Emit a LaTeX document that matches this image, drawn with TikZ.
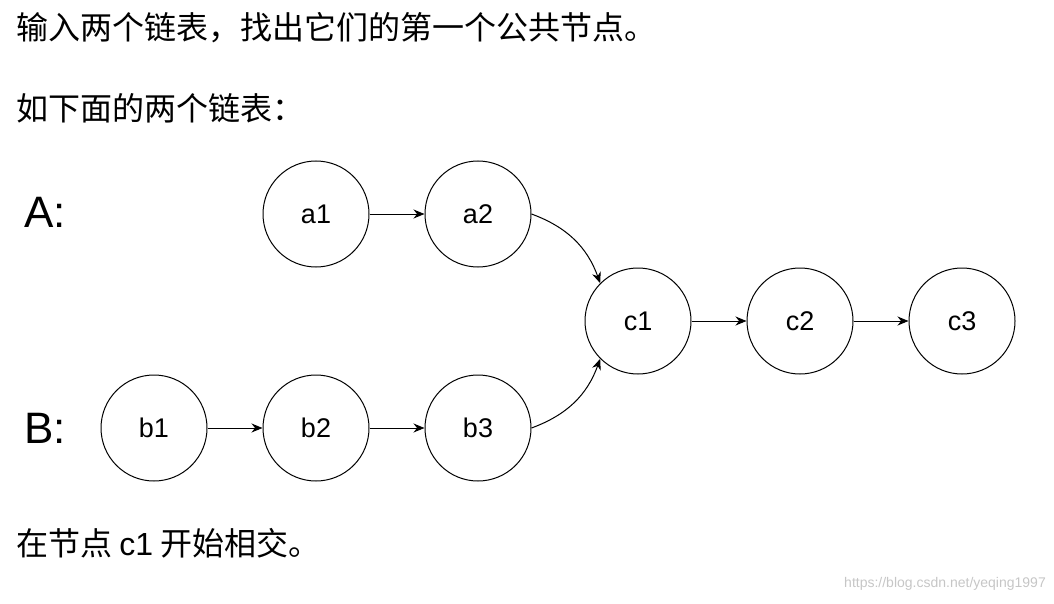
\documentclass[tikz,border=0pt]{standalone}
\usepackage{fontspec}
\setmainfont{Liberation Sans}
\newfontfamily\cjk{Noto Sans CJK SC}
\usetikzlibrary{arrows.meta}
\begin{document}
\begin{tikzpicture}[x=1pt,y=-1pt,
  nd/.style={circle,draw,line width=1pt,minimum size=106pt,inner sep=0pt,font=\fontsize{27}{30}\selectfont},
  ar/.style={-{Stealth[length=11pt,width=9pt]},line width=1pt},
  lab/.style={font=\fontsize{44}{48}\selectfont,anchor=center},
  txt/.style={font=\cjk\fontsize{32}{36}\selectfont,anchor=west,inner sep=0pt}]
\useasboundingbox (0,0) rectangle (1054,604);
\node[txt] (t1) at (16,28) {输入两个链表，找出它们的第一个公共节点。};
\node[txt] (t2) at (16,108) {如下面的两个链表：};
\node[txt] (t3) at (16,543) {在节点 {\fontspec{Liberation Sans}c1} 开始相交。};
\node[anchor=east,inner sep=0pt,text=gray!45,font=\fontsize{14}{16}\selectfont] (w) at (1046,584) {https://blog.csdn.net/yeqing1997};
\node[lab] (A) at (45,212) {A:};
\node[lab] (B) at (45,428) {B:};
\node[nd] (a1) at (316,214) {a1};
\node[nd] (a2) at (478,214) {a2};
\node[nd] (c1) at (638,321) {c1};
\node[nd] (c2) at (800,321) {c2};
\node[nd] (c3) at (962,321) {c3};
\node[nd] (b1) at (154,428) {b1};
\node[nd] (b2) at (316,428) {b2};
\node[nd] (b3) at (478,428) {b3};
\draw[ar] (a1) -- (a2);
\draw[ar] (c1) -- (c2);
\draw[ar] (c2) -- (c3);
\draw[ar] (b1) -- (b2);
\draw[ar] (b2) -- (b3);
\draw[ar] (a2.east) to[bend left=25] (c1.135);
\draw[ar] (b3.east) to[bend right=25] (c1.225);
\end{tikzpicture}
\end{document}
